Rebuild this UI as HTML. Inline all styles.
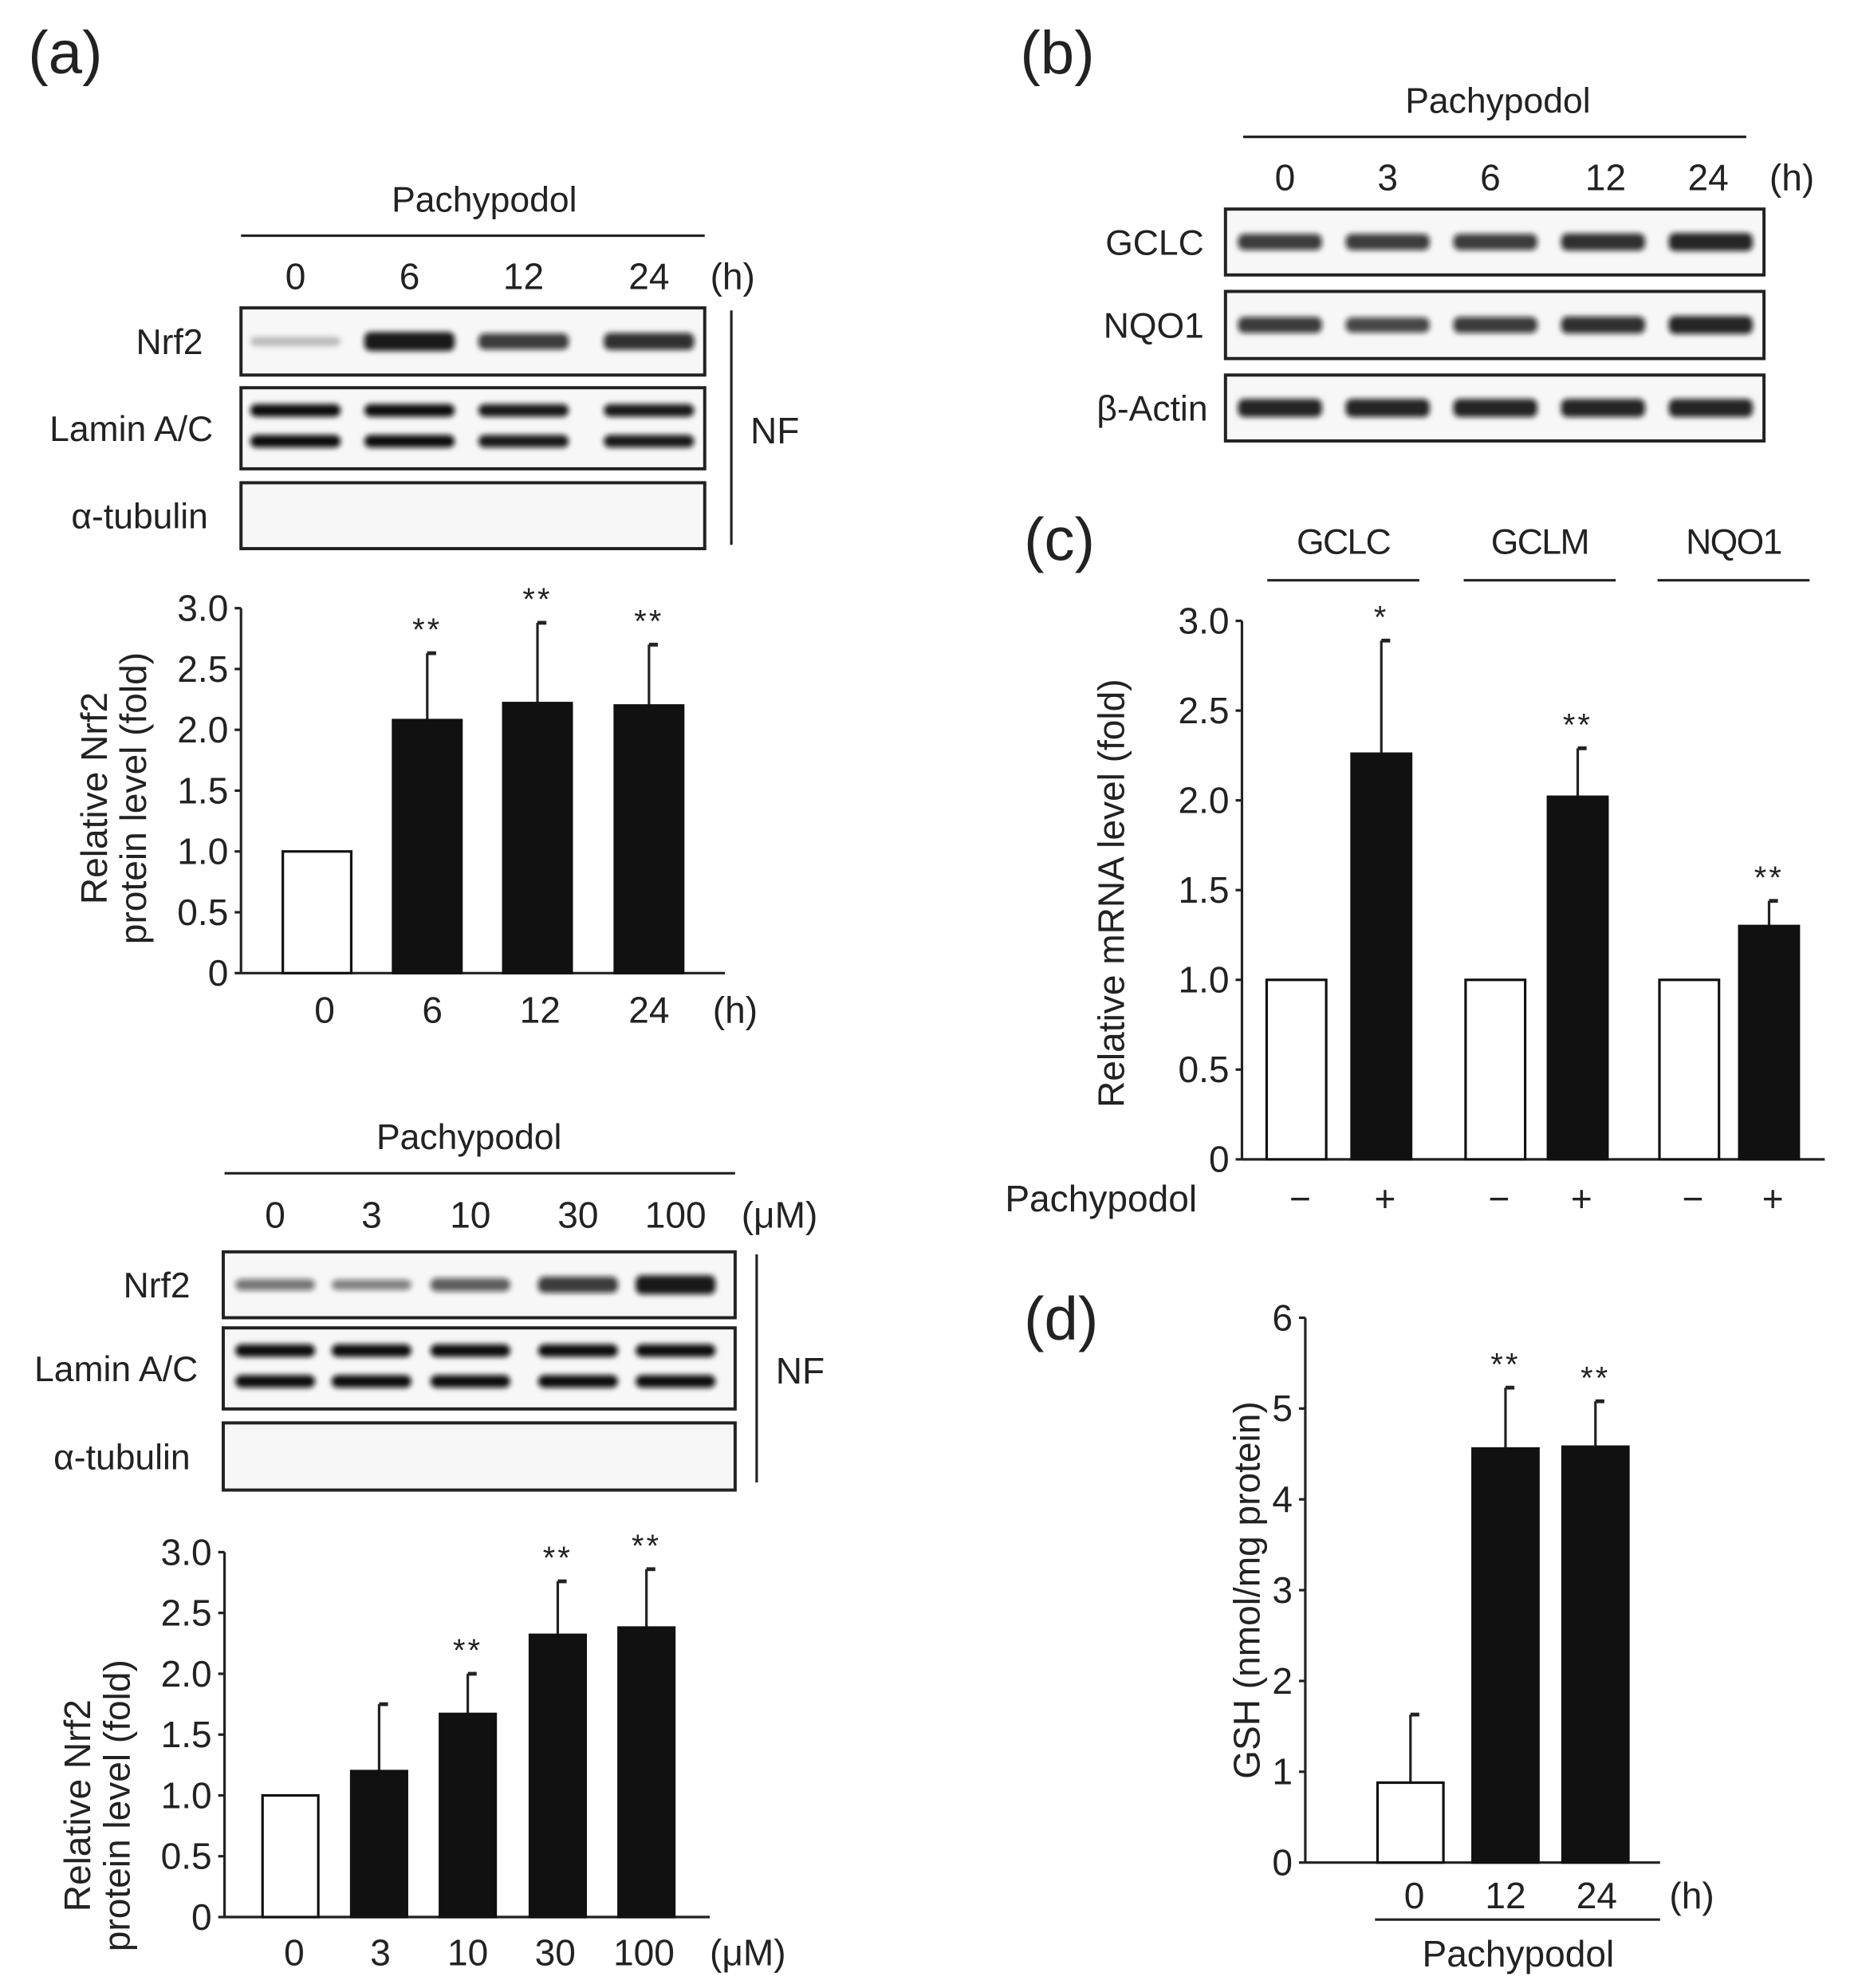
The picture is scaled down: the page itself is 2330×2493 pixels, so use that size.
<!DOCTYPE html>
<html><head><meta charset="utf-8">
<style>
html,body{margin:0;padding:0;background:#fff;}
svg{display:block;}
text{font-family:"Liberation Sans",Arial,sans-serif;fill:#222;}
</style></head>
<body>
<svg id="fig" xmlns="http://www.w3.org/2000/svg" width="2330" height="2493" viewBox="0 0 1466 1569">
<defs>
<filter id="blur" x="-20%" y="-50%" width="140%" height="200%"><feGaussianBlur stdDeviation="2.2"/></filter>
</defs>
<g id="root"></g>
</svg>
<script>
// ---- data ----
const a1Cats = ["0","6","12","24"];
const a1Vals = [1.0, 2.08, 2.22, 2.2];
const a1Errs = [0, 2.63, 2.88, 2.7];
const a1Stars = ["", "**", "**", "**"];
const a2Cats = ["0","3","10","30","100"];
const a2Vals = [1.0, 1.2, 1.67, 2.32, 2.38];
const a2Errs = [0, 1.75, 2.0, 2.76, 2.86];
const a2Stars = ["", "", "**", "**", "**"];
const frTicks = ["0","0.5","1.0","1.5","2.0","2.5","3.0"];
const cGenes = ["GCLC","GCLM","NQO1"];
const cCtrl = [1.0, 1.0, 1.0];
const cTreat = [2.26, 2.02, 1.3];
const cErrs = [2.89, 2.29, 1.44];
const cStars = ["*", "**", "**"];
const dCats = ["0","12","24"];
const dVals = [0.88, 4.56, 4.58];
const dErrs = [1.63, 5.23, 5.08];
const dStars = ["", "**", "**"];
const dTicks = ["0","1","2","3","4","5","6"];
const bandA1 = [0.25, 1.0, 0.85, 0.9];
const bandA2 = [0.6, 0.55, 0.7, 0.85, 1.0];
const bandB = [0.85, 0.85, 0.85, 0.9, 0.95];

const NS="http://www.w3.org/2000/svg";
const root=document.getElementById('root');
function el(tag, attrs, parent){const e=document.createElementNS(NS,tag);for(const k in attrs)e.setAttribute(k,attrs[k]);(parent||root).appendChild(e);return e;}
function txt(x,y,s,size,anchor,name,extra){const t=el('text',Object.assign({x:x,y:y,'font-size':size,'text-anchor':anchor||'middle'},extra||{}));t.textContent=s;


return t;}
function line(x1,y1,x2,y2,w,name){const l=el('line',{x1:x1,y1:y1,x2:x2,y2:y2,stroke:'#222','stroke-width':w||2});


return l;}

// panel letters
txt(22,58,'(a)',48,'start','panel-label-a');
txt(805,58,'(b)',48,'start','panel-label-b');
txt(808,442,'(c)',48,'start','panel-label-c');
txt(808,1057,'(d)',48,'start','panel-label-d');

function blotBox(x1,x2,y1,y2,name,label,lx,lanes,intens,nb){
  const r=el('rect',{x:x1,y:y1,width:x2-x1,height:y2-y1,fill:'#f7f7f7',stroke:'#222','stroke-width':2.5});
  
  
  txt(lx,(y1+y2)/2+10,label,28,'end',name+'-label');
  if(!intens) return;
  const g=el('g',{filter:'url(#blur)'});
  lanes.forEach((cx,i)=>{
    const w=(x2-x1)/lanes.length*0.78;
    const ys = nb===2?[y1+(y2-y1)*0.28,y1+(y2-y1)*0.66]:[(y1+y2)/2];
    ys.forEach((yy,j)=>{
      const h = nb===2?10:15*Math.max(0.5,intens[i]);
      const b=el('rect',{x:cx-w/2,y:yy-h/2,width:w,height:h,rx:5,fill:'#111','fill-opacity':Math.min(1,intens[i]*(nb===2?1:0.95))},g);
      
      
    });
  });
}

function barChart(o){
  const sy=v=>o.y0-(v/o.max)*(o.y0-o.ytop);
  line(o.ax,o.ytop,o.ax,o.y0,2,o.name+'-y-axis');
  line(o.ax,o.y0,o.axEnd,o.y0,2,o.name+'-x-axis');
  o.ticks.forEach((t,i)=>{const v=o.max*i/(o.ticks.length-1);
    line(o.ax-5,sy(v),o.ax,sy(v),2,o.name+'-tick');
    txt(o.ax-10,sy(v)+10,t,29,'end',o.name+'-tick-label');});
  o.bars.forEach(b=>{
    if(b.err>b.val){line(b.cx,sy(b.val),b.cx,sy(b.err),2,o.name+'-error-bar');line(b.cx,sy(b.err),b.cx+7,sy(b.err),3,o.name+'-error-cap');}
    const r=el('rect',{x:b.cx-o.bw/2,y:sy(b.val),width:o.bw,height:o.y0-sy(b.val),fill:b.open?'#fff':'#111',stroke:'#111','stroke-width':2});
    
    
    if(b.star) txt(b.cx,sy(Math.max(b.err,b.val))-10,b.star,25,'middle',o.name+'-significance',{'letter-spacing':'2'});
  });
  return sy;
}

// ---- panel a top ----
txt(382,167,'Pachypodol',28,'middle','a1-treatment-label');
line(190,186,556,186,2,'a1-treatment-line');
const a1Lanes=[233,323,413,512];
a1Cats.forEach((c,i)=>txt(a1Lanes[i],228,c,29,'middle','a1-lane-label'));
txt(578,228,'(h)',29,'middle','a1-unit');
blotBox(190,556,243,296,'a1-nrf2-blot','Nrf2',160,a1Lanes,bandA1,1);
blotBox(190,556,306,370,'a1-lamin-blot','Lamin A/C',168,a1Lanes,[1,1,0.95,0.95],2);
blotBox(190,556,381,433,'a1-tubulin-blot','α-tubulin',164,a1Lanes,null);
line(577,245,577,430,2,'a1-nf-bracket');
txt(592,350,'NF',29,'start','a1-nf-label');
const a1Cx=[250,337,424,512];
barChart({name:'a1-chart',ax:190,axEnd:572,ytop:480,y0:768,max:3,ticks:frTicks,bw:54,
  bars:a1Vals.map((v,i)=>({cx:a1Cx[i],val:v,err:a1Errs[i],open:i===0,star:a1Stars[i]}))});
a1Cats.forEach((c,i)=>txt([256,341,426,512][i],807,c,29,'middle','a1-x-label'));
txt(580,807,'(h)',29,'middle','a1-x-unit');
txt(0,0,'Relative Nrf2',29,'middle','a1-y-title',{transform:'translate(84,630) rotate(-90)'});
txt(0,0,'protein level (fold)',29,'middle','a1-y-title-2',{transform:'translate(115,630) rotate(-90)'});

// ---- panel a bottom ----
txt(370,907,'Pachypodol',28,'middle','a2-treatment-label');
line(177,926,580,926,2,'a2-treatment-line');
const a2Lanes=[217,293,371,456,533];
a2Cats.forEach((c,i)=>txt(a2Lanes[i],969,c,29,'middle','a2-lane-label'));
txt(615,969,'(μM)',29,'middle','a2-unit');
blotBox(176,580,988,1040,'a2-nrf2-blot','Nrf2',150,a2Lanes,bandA2,1);
blotBox(176,580,1048,1112,'a2-lamin-blot','Lamin A/C',156,a2Lanes,[1,1,1,1,1],2);
blotBox(176,580,1123,1176,'a2-tubulin-blot','α-tubulin',150,a2Lanes,null);
line(597,990,597,1170,2,'a2-nf-bracket');
txt(612,1092,'NF',29,'start','a2-nf-label');
const a2Cx=[229,299,369,440,510];
barChart({name:'a2-chart',ax:177,axEnd:560,ytop:1225,y0:1513,max:3,ticks:frTicks,bw:44,
  bars:a2Vals.map((v,i)=>({cx:a2Cx[i],val:v,err:a2Errs[i],open:i===0,star:a2Stars[i]}))});
a2Cats.forEach((c,i)=>txt([232,300,369,438,508][i],1551,c,29,'middle','a2-x-label'));
txt(590,1551,'(μM)',29,'middle','a2-x-unit');
txt(0,0,'Relative Nrf2',29,'middle','a2-y-title',{transform:'translate(71,1425) rotate(-90)'});
txt(0,0,'protein level (fold)',29,'middle','a2-y-title-2',{transform:'translate(102,1425) rotate(-90)'});

// ---- panel b ----
txt(1182,89,'Pachypodol',28,'middle','b-treatment-label');
line(981,108,1378,108,2,'b-treatment-line');
const bLanes=[1014,1095,1176,1267,1348];
["0","3","6","12","24"].forEach((c,i)=>txt(bLanes[i],150,c,29,'middle','b-lane-label'));
txt(1414,150,'(h)',29,'middle','b-unit');
const bLanesC=[1010,1095,1180,1265,1350];
blotBox(967,1392,165,217,'b-gclc-blot','GCLC',950,bLanesC,bandB,1);
blotBox(967,1392,230,283,'b-nqo1-blot','NQO1',950,bLanesC,[0.85,0.8,0.85,0.9,0.95],1);
blotBox(967,1392,296,348,'b-actin-blot','β-Actin',953,bLanesC,[0.95,0.95,0.95,0.95,0.95],1);

// ---- panel c ----
const cGroupCx=[1060,1215,1368];
const cLines=[[1000,1120],[1155,1275],[1308,1428]];
cGenes.forEach((g,i)=>{txt(cGroupCx[i],437,g,28,'middle','c-group-label',{'letter-spacing':'-1'});line(cLines[i][0],458,cLines[i][1],458,2,'c-group-line');});
const cOpenCx=[1023,1180,1333], cFillCx=[1090,1245,1396];
const cBars=[];
cGenes.forEach((g,i)=>{cBars.push({cx:cOpenCx[i],val:cCtrl[i],err:0,open:true,star:''});cBars.push({cx:cFillCx[i],val:cTreat[i],err:cErrs[i],open:false,star:cStars[i]});});
barChart({name:'c-chart',ax:980,axEnd:1440,ytop:490,y0:915,max:3,ticks:frTicks,bw:47,bars:cBars});
txt(793,956,'Pachypodol',29,'start','c-treatment-label');
cGenes.forEach((g,i)=>{txt(cOpenCx[i]+3,956,'−',29,'middle','c-minus');txt(cFillCx[i]+3,956,'+',29,'middle','c-plus');});
txt(0,0,'Relative mRNA level (fold)',29,'middle','c-y-title',{transform:'translate(887,705) rotate(-90)'});

// ---- panel d ----
const dCx=[1113,1188,1259];
barChart({name:'d-chart',ax:1030,axEnd:1310,ytop:1040,y0:1470,max:6,ticks:dTicks,bw:52,
  bars:dVals.map((v,i)=>({cx:dCx[i],val:v,err:dErrs[i],open:i===0,star:dStars[i]}))});
dCats.forEach((c,i)=>txt([1116,1188,1260][i],1506,c,29,'middle','d-x-label'));
txt(1335,1506,'(h)',29,'middle','d-x-unit');
line(1085,1515,1310,1515,2,'d-treatment-line');
txt(1198,1552,'Pachypodol',29,'middle','d-treatment-label');
txt(0,0,'GSH (nmol/mg protein)',29,'middle','d-y-title',{transform:'translate(994,1255) rotate(-90)'});
</script>
</body></html>
